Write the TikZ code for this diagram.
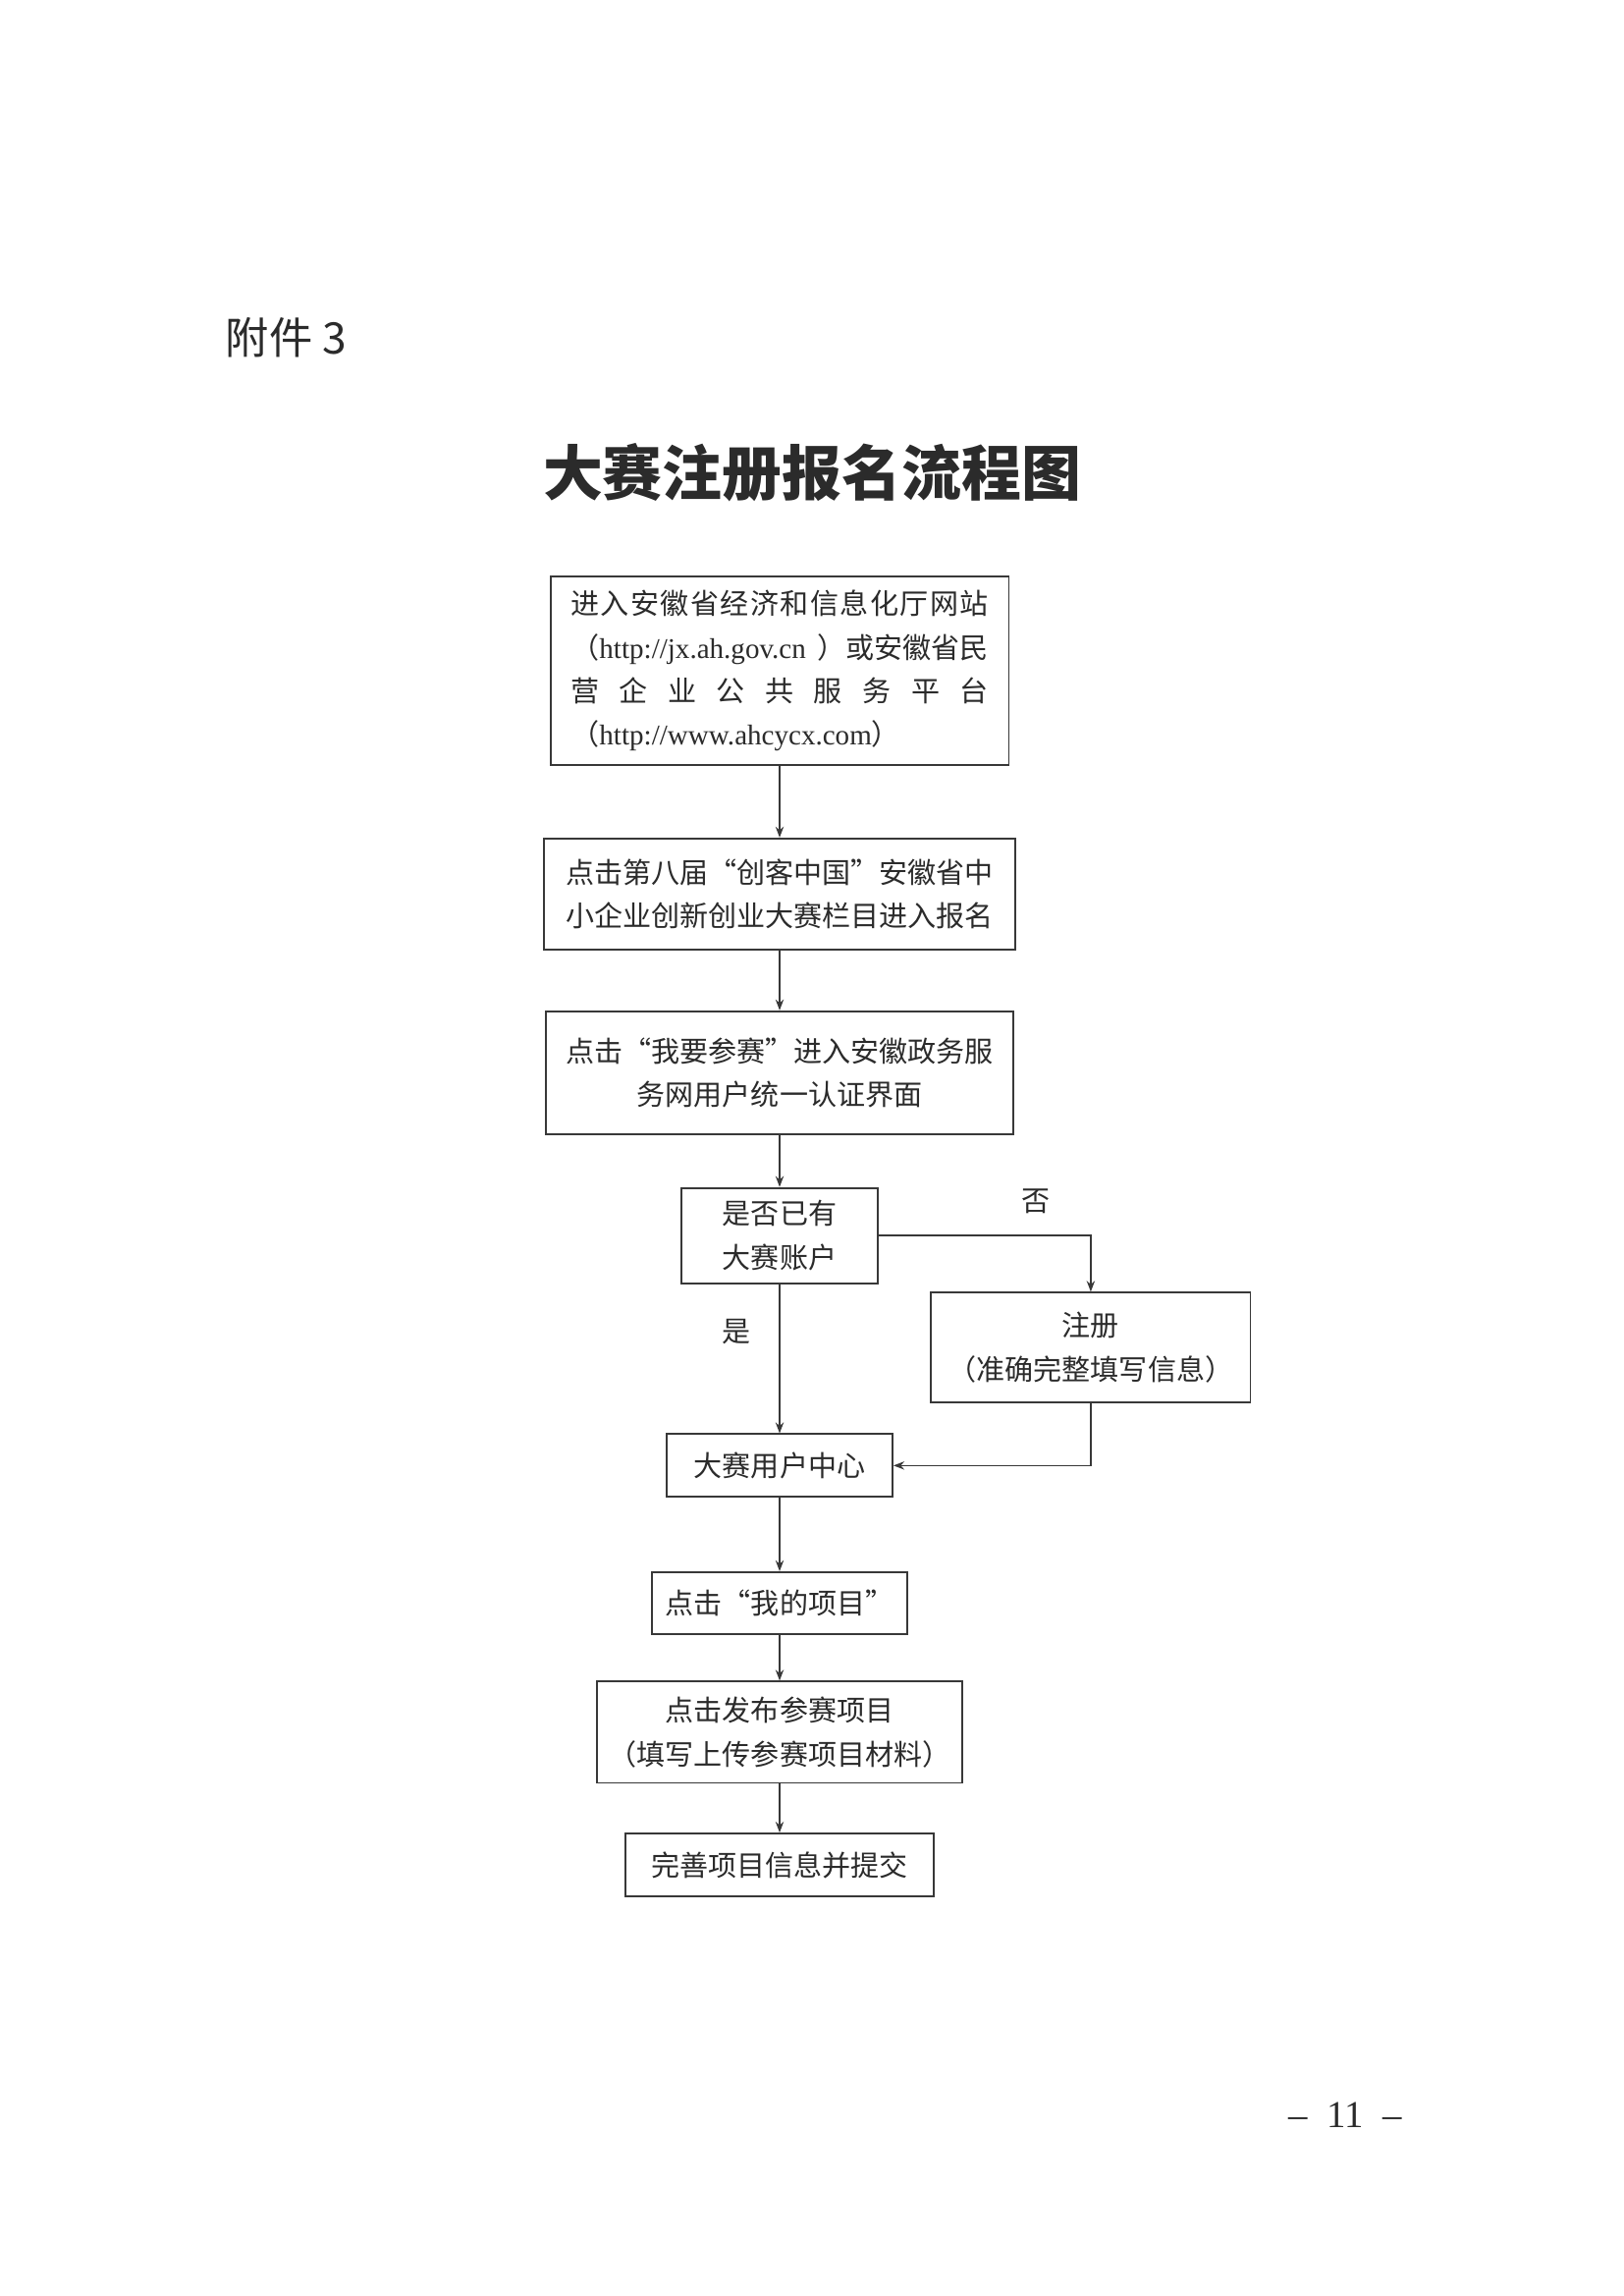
\documentclass[tikz,border=0pt]{standalone}
\usepackage{fontspec}
\setmainfont{Liberation Serif}
\newfontfamily\cjk{Noto Sans CJK SC}
\usepackage{tikz}
\usetikzlibrary{arrows.meta, positioning}
\definecolor{inkgray}{rgb}{0.17,0.17,0.17}
\definecolor{linegray}{rgb}{0.22,0.22,0.22}

\begin{document}
\begin{tikzpicture}[
  x=0.127mm, y=-0.127mm,
  box/.style     = {draw=linegray, line width=0.7pt, align=center, inner sep=0pt,
                    font=\cjk\fontsize{10.5pt}{16pt}\selectfont, text=inkgray},
  arrow/.style   = {-{Stealth[length=4pt, width=3pt]}, line width=0.6pt, draw=linegray},
  tag/.style     = {font=\cjk\fontsize{10.5pt}{13pt}\selectfont, text=inkgray},
  node distance  = 9mm,
]
\path[use as bounding box, fill=white] (0,0) rectangle (1653,2338);

%% ==================== HEADER ====================
\node[anchor=west, font=\cjk\fontsize{16pt}{18pt}\selectfont, text=inkgray] (annex) at (220,344) {附件 3};
\node[font=\cjk\bfseries\fontsize{22pt}{26pt}\selectfont, text=inkgray] (title) at (827,481) {大赛注册报名流程图};

%% ==================== MAIN FLOW ====================
\node[box, align=left, minimum width=59.3mm, minimum height=24.3mm] (portal) at (794,683)
      {\hbox to 54mm{进\hfil 入\hfil 安\hfil 徽\hfil 省\hfil 经\hfil 济\hfil 和\hfil 信\hfil 息\hfil 化\hfil 厅\hfil 网\hfil 站}\\
       \hbox to 54mm{（{\rmfamily http://jx.ah.gov.cn}\hfil ）或安徽省民}\\
       \hbox to 54mm{营\hfil 企\hfil 业\hfil 公\hfil 共\hfil 服\hfil 务\hfil 平\hfil 台}\\
       （{\rmfamily http://www.ahcycx.com}）};

\node[box, below=9.3mm of portal, minimum width=61mm, minimum height=14.4mm] (entry)
      {\hbox to 157.5pt{点击第八届\hfil “创客中国”\hfil 安徽省中}\\小企业创新创业大赛栏目进入报名};

\node[box, below=7.7mm of entry, minimum width=60.5mm, minimum height=15.9mm] (auth)
      {\hbox to 157.5pt{点击\hfil “我要参赛”\hfil 进入安徽政务服}\\务网用户统一认证界面};

\node[box, below=6.7mm of auth, minimum width=25.5mm, minimum height=12.3mm] (check)
      {是否已有\\大赛账户};

\node[box, below right=1mm and 6.6mm of check, minimum width=41.3mm, minimum height=14.2mm] (reg)
      {注册\\（准确完整填写信息）};

\node[box, below=19.3mm of check, minimum width=29.2mm, minimum height=8.1mm] (center)
      {大赛用户中心};

\node[box, below=9.5mm of center, minimum width=33.1mm, minimum height=8mm] (myproj)
      {点击“我的项目”};

\node[box, below=5.9mm of myproj, minimum width=47.2mm, minimum height=13.1mm] (publish)
      {点击发布参赛项目\\（填写上传参赛项目材料）};

\node[box, below=6.3mm of publish, minimum width=39.8mm, minimum height=8.1mm] (submit)
      {完善项目信息并提交};

%% Arrows
\draw[arrow] (portal) -- (entry);
\draw[arrow] (entry)  -- (auth);
\draw[arrow] (auth)   -- (check);
\draw[arrow] (check)  -- (center) node[pos=0.32, left=2.5mm, tag] {是};
\draw[arrow] (check.east) -| (reg.north) node[pos=0.37, above=1.5mm, tag] {否};
\draw[arrow] (reg.south) |- (center.east);
\draw[arrow] (center)  -- (myproj);
\draw[arrow] (myproj)  -- (publish);
\draw[arrow] (publish) -- (submit);

%% Page number
\node[font=\fontsize{14pt}{16pt}\selectfont, text=inkgray] (pagenum) at (1370,2154)
      {–\hspace{0.5em}11\hspace{0.5em}–};

\end{tikzpicture}
\end{document}
